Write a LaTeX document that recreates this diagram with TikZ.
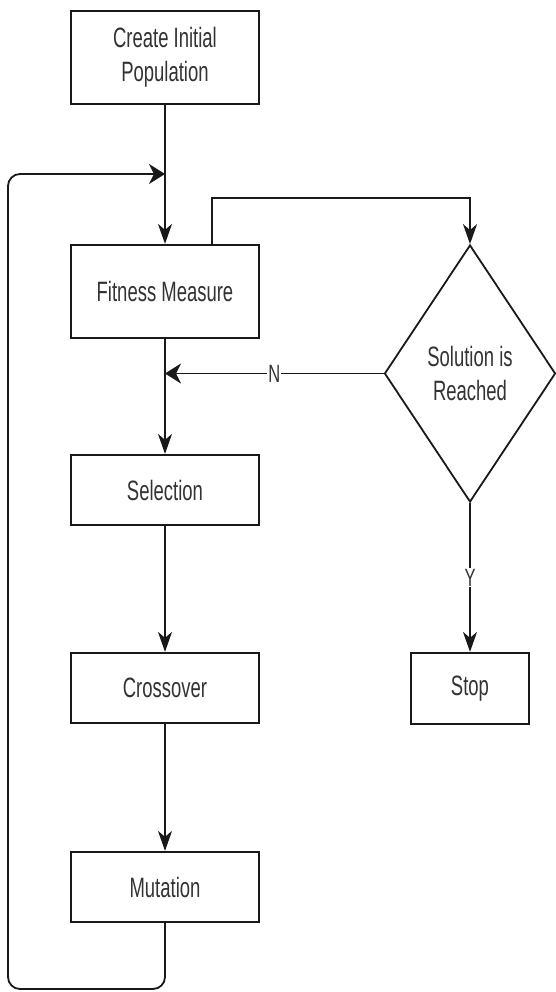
\documentclass[tikz,border=0pt]{standalone}
\usepackage{fontspec}
\newfontfamily\lab[FakeStretch=0.66]{Liberation Sans}
\usetikzlibrary{shapes.geometric,arrows.meta}
\tikzset{
  box/.style={draw=black!90, line width=2.2pt, fill=white, inner sep=0pt, minimum width=188pt,
    align=center, text=black!80, font=\lab\fontsize{28}{34}\selectfont},
  decis/.style={diamond, draw=black!90, line width=1.8pt, fill=white, inner sep=0pt,
    minimum width=171pt, minimum height=257pt, align=center, text=black!80,
    font=\lab\fontsize{28}{34}\selectfont},
  conn/.style={draw=black!90, line width=1.8pt},
  varrow/.style={conn, -{Stealth[length=20pt, width=14pt, inset=6pt]}},
  harrow/.style={conn, -{Stealth[length=16pt, width=20pt, inset=5pt]}},
  lbl/.style={fill=white, inner sep=1pt, text=black!80, font=\lab\fontsize{25}{30}\selectfont}
}
\begin{document}
\begin{tikzpicture}[x=1pt, y=-1pt]
\useasboundingbox (0,0) rectangle (556,992);
\node[box, minimum height=93pt] (crt) at (165,57.5) {Create Initial\\Population};
\node[box, minimum height=93pt] (fit) at (165,291.5) {Fitness Measure};
\node[box, minimum height=70pt] (sel) at (165,490) {Selection};
\node[box, minimum height=70pt] (crs) at (165,688) {Crossover};
\node[box, minimum height=70pt] (mut) at (165,887) {Mutation};
\node[box, minimum width=118pt, minimum height=71pt] (stp) at (470,688.5) {Stop};
\node[decis] (dec) at (470,373.5) {Solution is\\Reached};
\coordinate (br) at (212,198);
\coordinate (lc) at (8,989);
\coordinate (jn) at (165,174);
% main flow
\draw[varrow] (crt.south) -- (fit.north);
\draw[varrow] (fit.south) -- (sel.north);
\draw[varrow] (sel.south) -- (crs.north);
\draw[varrow] (crs.south) -- (mut.north);
% to decision
\draw[varrow] (br |- fit.north) -- (br) -| (dec.north);
% No branch
\draw[harrow] (dec.west) -- node[lbl] (nl) {N} (dec.west -| fit.south);
% Yes branch
\draw[varrow] (dec.south) -- node[lbl] (yl) {Y} (stp.north);
% loop back
\draw[harrow, rounded corners=12pt] (mut.south) |- (lc) |- (jn);
\end{tikzpicture}
\end{document}
